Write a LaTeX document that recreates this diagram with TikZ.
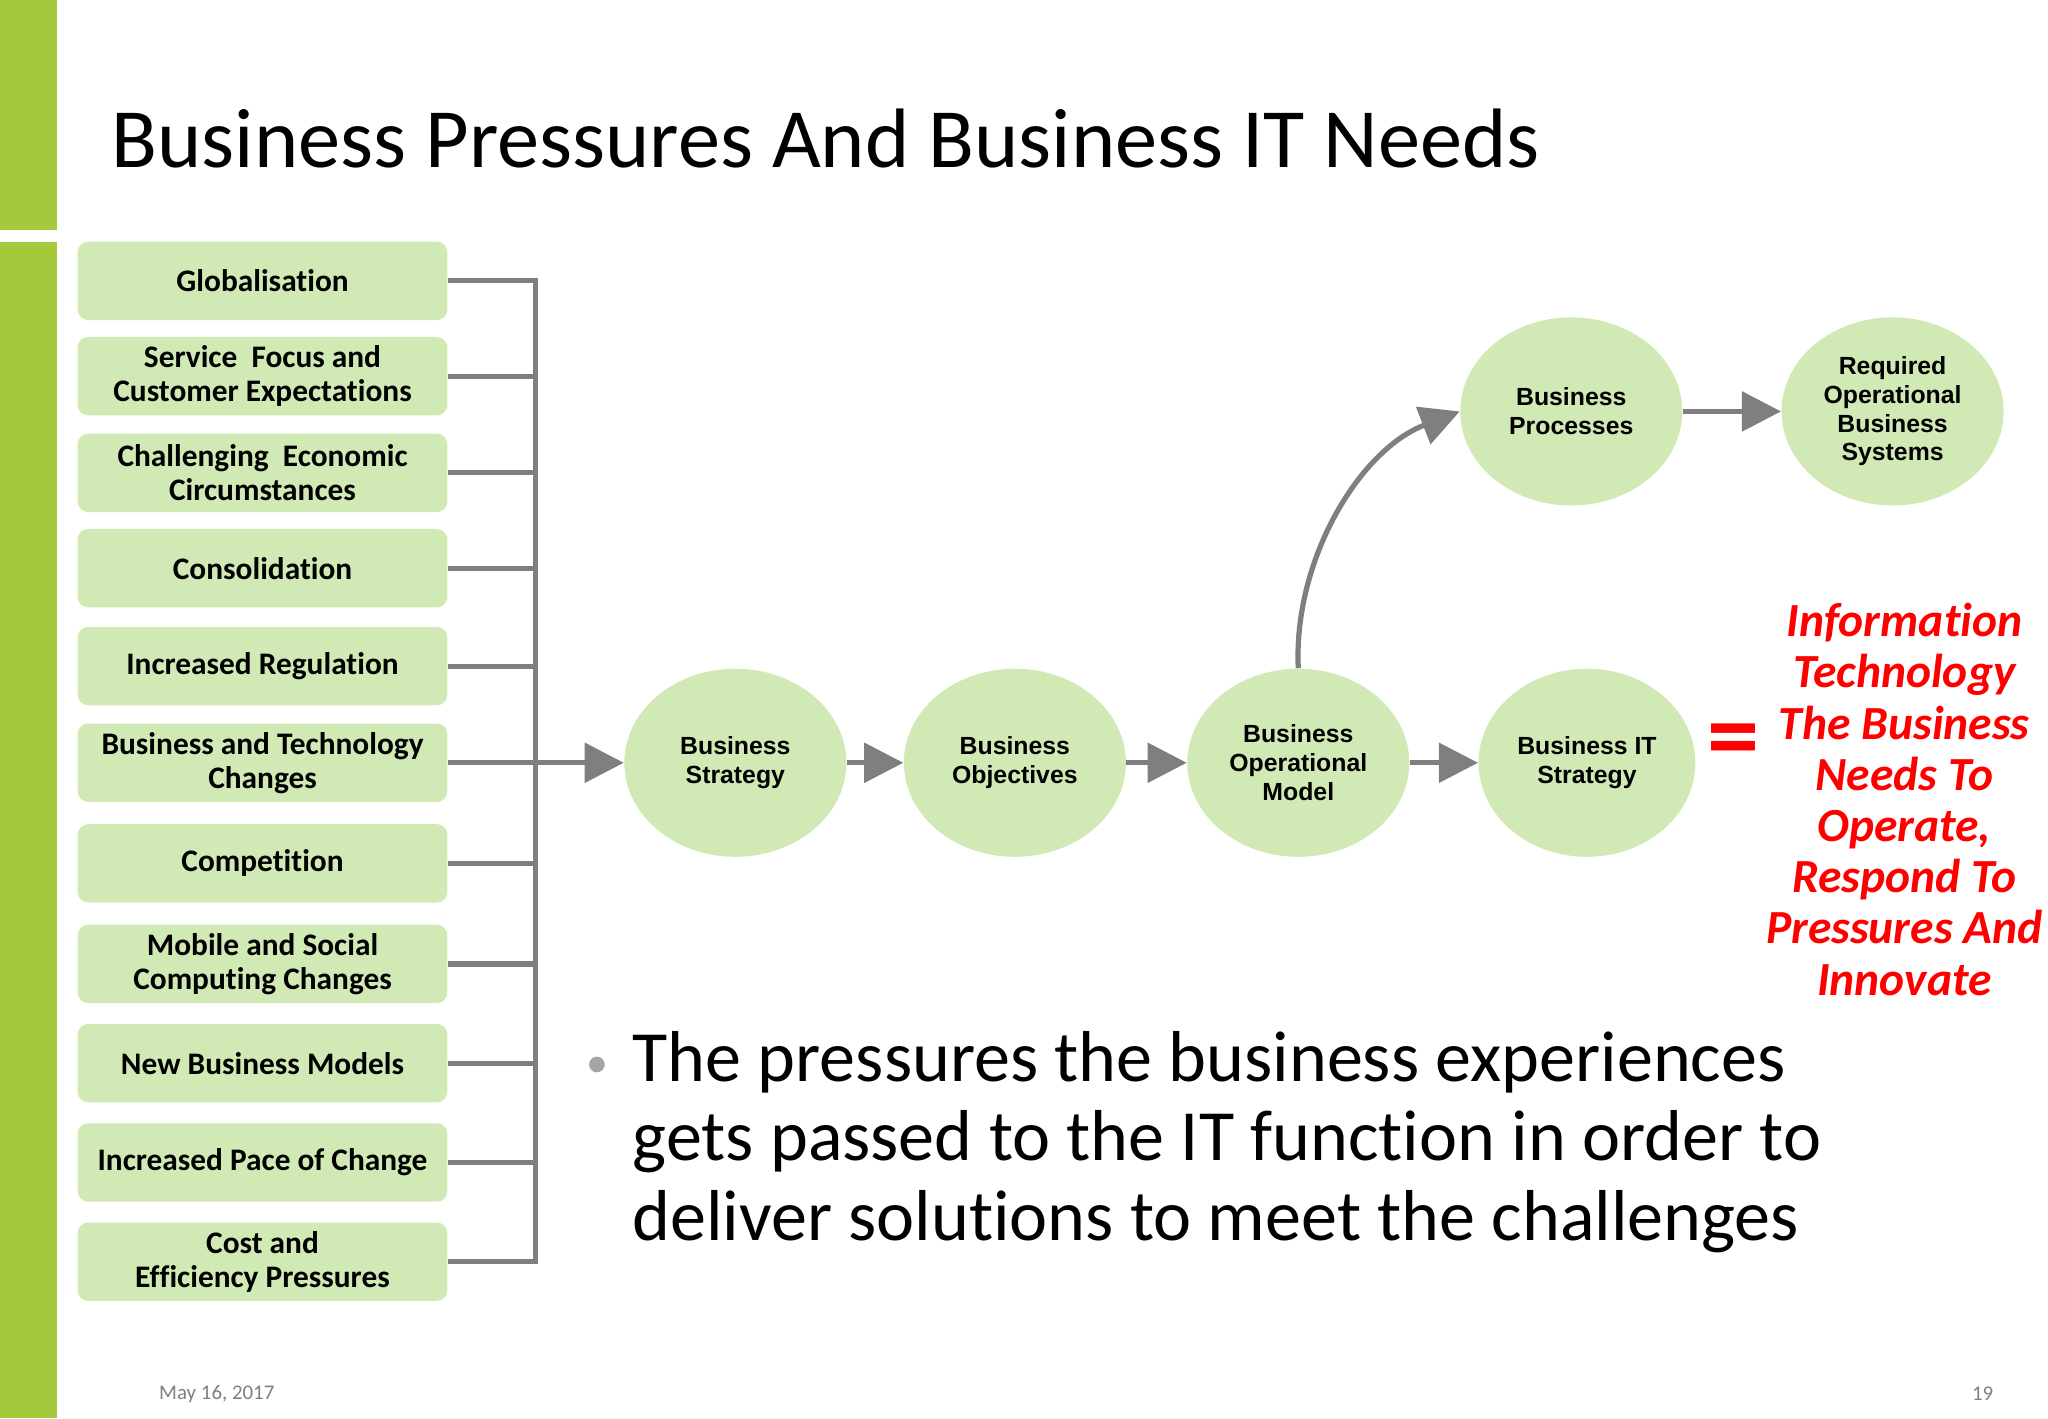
\documentclass[tikz,border=0pt]{standalone}
\usepackage{fontspec}
\setmainfont{Carlito}[Ligatures=NoCommon]
\newfontfamily\arialf{Liberation Sans}
\usetikzlibrary{shapes.geometric,arrows.meta}
\definecolor{lg}{HTML}{D1E9B4}
\definecolor{bar}{HTML}{A4C93A}
\definecolor{ln}{HTML}{7F7F7F}
\begin{document}
\begin{tikzpicture}[x=0.5pt,y=-0.5pt,
 box/.style={rectangle,rounded corners=4pt,fill=lg,minimum width=141.5pt,minimum height=30pt,font=\bfseries\fontsize{12}{13}\selectfont,align=center,inner sep=1pt},
 ell/.style={ellipse,fill=lg,minimum width=85pt,minimum height=72pt,font=\arialf\bfseries\fontsize{9.5}{11}\selectfont,align=center,inner sep=0pt},
 con/.style={draw=ln,line width=2pt},
 arr/.style={con,-{Triangle[length=15pt,width=15pt]}},
 red/.style={text=red,font=\bfseries\itshape\fontsize{18.2}{19.6}\selectfont}]
\useasboundingbox (0,0) rectangle (1568,1086);
\fill[bar] (0,0) rectangle (44,176);
\fill[bar] (0,185) rectangle (44,1086);
\node[anchor=base west,font=\fontsize{32.3}{40}\selectfont,inner sep=0] (title) at (85,128) {Business Pressures And Business IT Needs};
\foreach \n/\y/\t in {b1/215/Globalisation,b2/288/{Service\ \ Focus and\\Customer Expectations},b3/362/{Challenging\ \ Economic\\Circumstances},b4/435/Consolidation,b5/510/Increased Regulation,b6/584/{Business and Technology\\Changes},b7/661/Competition,b8/738/{Mobile and Social\\Computing Changes},b9/814/New Business Models,b10/890/Increased Pace of Change,b11/966/{Cost and\\Efficiency Pressures}}{
 \node[box] (\n) at (201,\y) {\t};
 \coordinate (j\n) at (410,\y);
 \draw[con] (\n.east) -- (j\n);
}
\draw[con] ([yshift=1pt]jb1) -- ([yshift=-1pt]jb11);
\node[ell] (bs) at (563,584) {Business\\Strategy};
\node[ell] (bo) at (777,584) {Business\\Objectives};
\node[ell] (bom) at (994,584) {Business\\Operational\\Model};
\node[ell,minimum width=83pt] (bit) at (1215,584) {Business IT\\Strategy};
\node[ell] (bp) at (1203,315) {Business\\Processes};
\node[ell] (ros) at (1449,315) {Required\\Operational\\Business\\Systems};
\draw[arr] (jb6) -- (bs);
\draw[arr] (bs) -- (bo);
\draw[arr] (bo) -- (bom);
\draw[arr] (bom) -- (bit);
\draw[arr] (bp) -- (ros);
\draw[arr] (bom.north) .. controls (990,430) and (1040,345) .. (bp.west);
\node[text=red,font=\bfseries\fontsize{40}{40}\selectfont] (eq) at (1327,572) {=};
\node[red,align=center] (it) at (1458,612) {Information\\Technology\\The Business\\Needs To\\Operate,\\Respond To\\Pressures And\\Innovate};
\fill[ln!70] (457,815) circle (6);
\node[anchor=north west,align=left,font=\fontsize{27.6}{30.5}\selectfont,inner sep=0] (txt) at (484,789) {The pressures the business experiences\\gets passed to the IT function in order to\\deliver solutions to meet the challenges};
\node[text=ln,font=\fontsize{8}{9}\selectfont] (date) at (166,1067) {May 16, 2017};
\node[text=ln,font=\fontsize{8}{9}\selectfont] (pg) at (1518,1067) {19};
\end{tikzpicture}
\end{document}
